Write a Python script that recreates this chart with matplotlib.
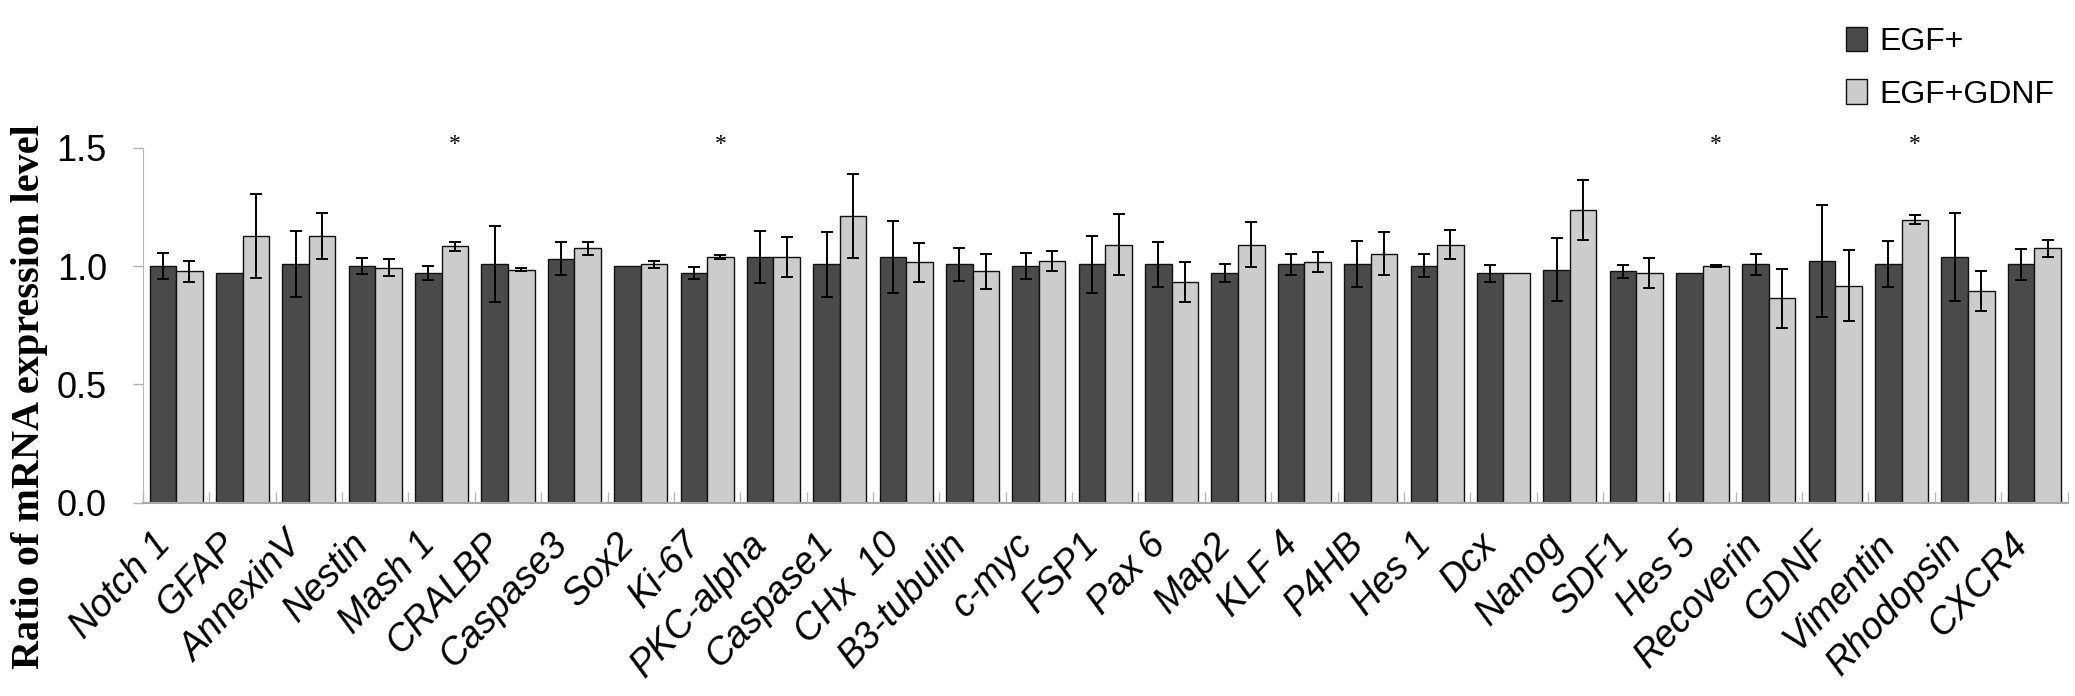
import numpy as np
import matplotlib
matplotlib.use("Agg")
import matplotlib.pyplot as plt
from matplotlib.transforms import ScaledTranslation

# data
genes = ['Notch 1', 'GFAP', 'AnnexinV', 'Nestin', 'Mash 1', 'CRALBP', 'Caspase3',
         'Sox2', 'Ki-67', 'PKC-alpha', 'Caspase1', 'CHx  10', 'B3-tubulin', 'c-myc',
         'FSP1', 'Pax 6', 'Map2', 'KLF 4', 'P4HB', 'Hes 1', 'Dcx', 'Nanog', 'SDF1',
         'Hes 5', 'Recoverin', 'GDNF', 'Vimentin', 'Rhodopsin', 'CXCR4']

egf = [1.000, 0.969, 1.008, 1.001, 0.969, 1.008, 1.031, 1.001, 0.970, 1.038,
       1.007, 1.039, 1.007, 1.001, 1.007, 1.007, 0.970, 1.007, 1.007, 1.001,
       0.969, 0.985, 0.977, 0.970, 1.007, 1.023, 1.007, 1.038, 1.007]
egf_err = [0.056, 0.0, 0.140, 0.035, 0.030, 0.162, 0.071, 0.0, 0.024, 0.110,
           0.136, 0.152, 0.071, 0.056, 0.121, 0.094, 0.037, 0.045, 0.097, 0.049,
           0.037, 0.133, 0.027, 0.0, 0.045, 0.237, 0.097, 0.185, 0.064]

gdnf = [0.977, 1.128, 1.128, 0.993, 1.083, 0.985, 1.075, 1.008, 1.038, 1.038,
        1.212, 1.016, 0.977, 1.023, 1.090, 0.932, 1.090, 1.016, 1.052, 1.090,
        0.969, 1.236, 0.970, 1.000, 0.863, 0.917, 1.196, 0.894, 1.075]
gdnf_err = [0.046, 0.177, 0.097, 0.035, 0.020, 0.008, 0.027, 0.015, 0.008, 0.083,
            0.178, 0.083, 0.075, 0.042, 0.128, 0.083, 0.094, 0.042, 0.090, 0.061,
            0.0, 0.128, 0.064, 0.004, 0.124, 0.150, 0.018, 0.086, 0.037]

significant = ['Mash 1', 'Ki-67', 'Hes 5', 'Vimentin']

plt.rcParams['font.family'] = ['Liberation Sans', 'DejaVu Sans']

W, H = 2075, 696
fig = plt.figure(figsize=(W / 100, H / 100), dpi=100)
ax = fig.add_axes([143 / W, 1 - 502.7 / H, (2067.5 - 143) / W, (502.7 - 147.7) / H])

x = np.arange(len(genes)) + 0.5
w = 0.4

def no_zero(err):
    e = np.array(err, dtype=float)
    e[e == 0] = np.nan
    return e

err_kw = dict(elinewidth=1.4, capthick=1.4, capsize=4.5, ecolor='black')
ax.bar(x - w / 2, egf, w, yerr=no_zero(egf_err), color='#4a4a4a',
       edgecolor='#111111', linewidth=1.0, error_kw=err_kw, label='EGF+')
ax.bar(x + w / 2, gdnf, w, yerr=no_zero(gdnf_err), color='#cccccc',
       edgecolor='#111111', linewidth=1.0, error_kw=err_kw, label='EGF+GDNF')

for g in significant:
    i = genes.index(g)
    ax.text(x[i] + w / 2, 1.515, '*', ha='center', va='center', fontsize=17,
            family='Liberation Serif', clip_on=False)

ax.set_xlim(0, len(genes))
ax.set_ylim(0, 1.5)
ax.set_yticks([0, 0.5, 1.0, 1.5])
ax.set_yticklabels(['0.0', '0.5', '1.0', '1.5'], fontsize=26)
ax.tick_params(axis='y', direction='out', length=7, width=1, color='#b0b0b0', pad=19)

ax.set_xticks(x)
ax.set_xticklabels(genes, rotation=47, ha='right', va='top', rotation_mode='anchor',
                   fontsize=27, fontstyle='italic')
ax.set_xticks(np.arange(len(genes) + 1), minor=True)
ax.tick_params(axis='x', which='major', length=0, pad=17)
ax.tick_params(axis='x', which='minor', direction='in', length=8, width=1, color='#b8b8b8')
shift = ScaledTranslation(-25 / 100, 0, fig.dpi_scale_trans)
for lab in ax.get_xticklabels():
    lab.set_transform(lab.get_transform() + shift)

for s in ['top', 'right']:
    ax.spines[s].set_visible(False)
ax.spines['left'].set_color('#b8b8b8')
ax.spines['bottom'].set_color('#a8a8a8')
ax.spines['bottom'].set_linewidth(1.5)

fig.text(30 / W, 1 - 397 / H, 'Ratio of mRNA expression level', rotation=90,
         ha='center', va='center', fontsize=29, fontweight='bold', family='Liberation Serif')

fig.legend(loc='upper left', bbox_to_anchor=(1846 / W, 1 - 27 / H), frameon=False,
           fontsize=23, handlelength=0.66, handleheight=0.78, handletextpad=0.4,
           labelspacing=0.7, borderpad=0, borderaxespad=0)

fig.savefig('out.png', dpi=100)
